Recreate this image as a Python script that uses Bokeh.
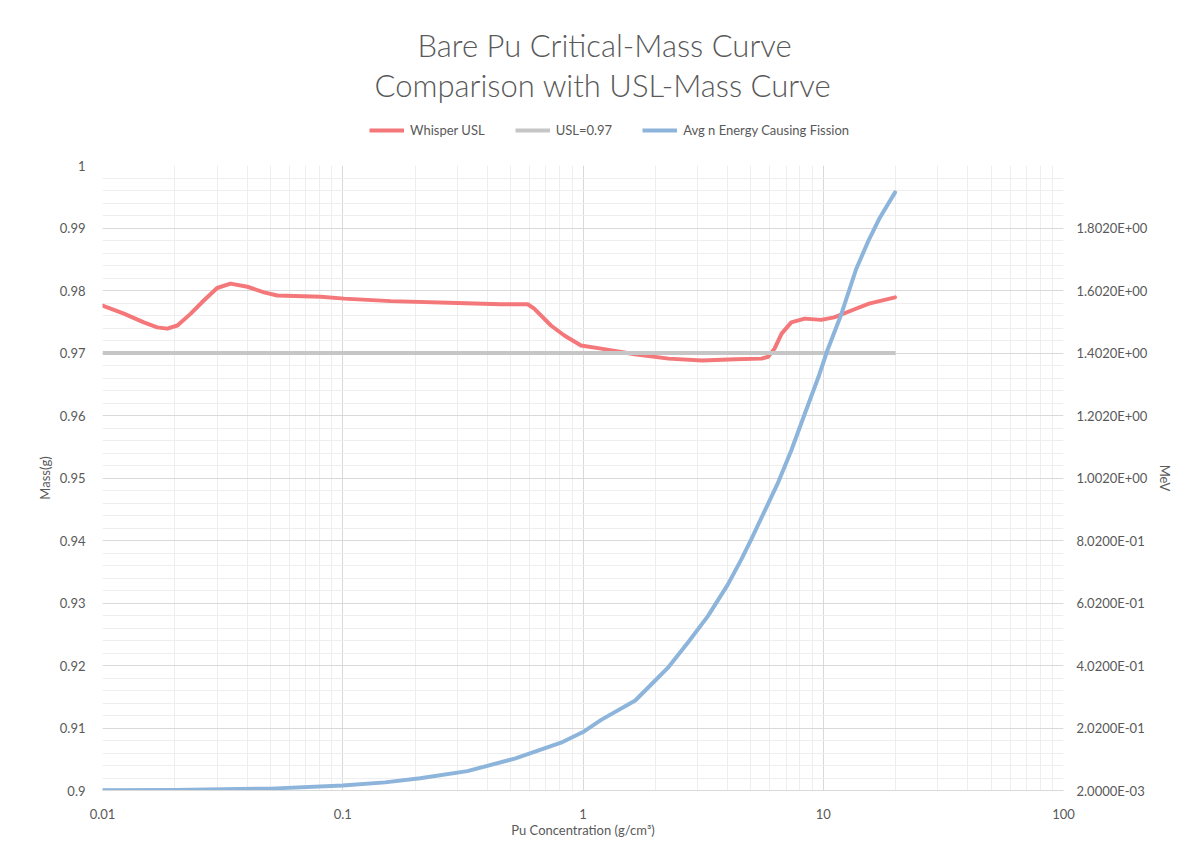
from bokeh.plotting import figure
from bokeh.layouts import column
from bokeh.models import (Range1d, LinearAxis, FixedTicker, SingleIntervalTicker,
                          CustomJSTickFormatter, Legend, LegendItem, Title)
from bokeh.embed import file_html
from bokeh.resources import INLINE

# ---------------- data ----------------
conc_usl = [0.01, 0.01227, 0.01486, 0.0169, 0.0186, 0.0205, 0.0233, 0.0264, 0.030,
            0.0341, 0.0401, 0.047, 0.0534, 0.081, 0.1013, 0.1585, 0.30, 0.4545,
            0.5886, 0.6264, 0.7356, 0.836, 0.981, 1.19, 1.644, 2.27, 3.13, 4.31,
            5.54, 5.9, 6.27, 6.71, 7.36, 8.37, 9.8, 11.1, 13.1, 15.5, 19.9]
whisper_usl = [0.9776, 0.9763, 0.9749, 0.9741, 0.9739, 0.9744, 0.9763, 0.9784, 0.9804,
               0.9811, 0.9806, 0.9797, 0.9792, 0.9790, 0.9787, 0.9783, 0.9780, 0.9778,
               0.9778, 0.9771, 0.9744, 0.9728, 0.9712, 0.9707, 0.9698, 0.9691, 0.9688,
               0.9690, 0.9691, 0.9694, 0.9707, 0.9731, 0.9749, 0.9755, 0.9753, 0.9757,
               0.9768, 0.9779, 0.9789]

conc_limit = [0.01, 20]
usl_limit = [0.97, 0.97]

conc_energy = [0.01, 0.02, 0.05, 0.1, 0.15, 0.21, 0.33, 0.52, 0.81, 1.0, 1.19, 1.65,
               1.86, 2.27, 2.73, 3.31, 4.0, 4.55, 5.01, 6.45, 7.36, 8.37, 9.55, 10.4,
               11.9, 13.7, 15.5, 17.2, 19.9]
avg_energy = [0.003, 0.004, 0.008, 0.018, 0.028, 0.041, 0.064, 0.104, 0.155, 0.189,
              0.228, 0.290, 0.330, 0.397, 0.475, 0.560, 0.660, 0.740, 0.805, 0.983,
              1.090, 1.207, 1.325, 1.410, 1.527, 1.670, 1.765, 1.835, 1.916]

series_names = ["Whisper USL", "USL=0.97", "Avg n Energy Causing Fission"]
series_colors = ["#f4777a", "#c6c6c6", "#8db4da"]

x_major = [0.01, 0.1, 1, 10, 100]
x_minor = [m * d for d in [0.01, 0.1, 1, 10] for m in range(2, 10)]
mev_ticks = [0.002, 0.202, 0.402, 0.602, 0.802, 1.002, 1.202, 1.402, 1.602, 1.802]

title_1 = "Bare Pu Critical-Mass Curve"
title_2 = "Comparison with USL-Mass Curve"

FONT = "Lato"
TITLE_FONT = "'Lato Light', Lato"
TXT = "#595959"
TOTAL_W = 1187

# ---------------- header (titles + legend) ----------------
header = figure(width=TOTAL_W, height=155, x_range=Range1d(0, 1), y_range=Range1d(0, 1),
                x_axis_location=None, y_axis_location=None, title=None,
                output_backend="svg", toolbar_location=None,
                min_border_left=0, min_border_right=0, min_border_bottom=0,
                min_border_top=103)
header.grid.visible = False
header.outline_line_color = None
header.border_fill_color = "white"

# legend swatches (kept outside the visible header range, only used by the legend)
swatches = [header.line([5, 6], [5, 6], line_color=c, line_width=4) for c in series_colors]
legend = Legend(items=[LegendItem(label=n, renderers=[r]) for n, r in zip(series_names, swatches)],
                orientation="horizontal", location=(267, 15),
                border_line_color=None, background_fill_alpha=0,
                label_text_font=FONT, label_text_font_size="13px",
                label_text_color=TXT, glyph_width=35, label_standoff=6,
                spacing=30, padding=10, margin=0)
header.add_layout(legend, "center")

t2 = Title(text=title_2, align="left", text_font=TITLE_FONT, text_font_size="31px",
           text_font_style="normal", text_color=TXT, offset=272, standoff=0)
t1 = Title(text=title_1, align="left", text_font=TITLE_FONT, text_font_size="31px",
           text_font_style="normal", text_color=TXT, offset=315, standoff=0)
header.add_layout(t2, "above")
header.add_layout(t1, "above")

# ---------------- main chart ----------------
p = figure(frame_width=961, frame_height=625, x_axis_type="log",
           x_range=Range1d(0.01, 100), y_range=Range1d(0.9, 1.0),
           output_backend="svg", toolbar_location=None, title=None,
           min_border_left=102, min_border_right=124, min_border_top=10,
           min_border_bottom=61)
p.outline_line_color = None
p.background_fill_color = "white"
p.border_fill_color = "white"

p.extra_y_ranges = {"mev": Range1d(0.002, 2.002)}

xa = p.xaxis[0]
xa.ticker = FixedTicker(ticks=x_major, minor_ticks=x_minor)
xa.formatter = CustomJSTickFormatter(code="return parseFloat(tick.toPrecision(6)).toString();")
xa.axis_label = "Pu Concentration (g/cm³)"

ya = p.yaxis[0]
ya.ticker = SingleIntervalTicker(interval=0.01, num_minor_ticks=5)
ya.formatter = CustomJSTickFormatter(code="return parseFloat(tick.toFixed(4)).toString();")
ya.axis_label = "Mass(g)"

ra = LinearAxis(y_range_name="mev", axis_label="MeV",
                ticker=FixedTicker(ticks=mev_ticks))
ra.formatter = CustomJSTickFormatter(code="""
const s = tick.toExponential(4);
const parts = s.split('e');
const sign = parts[1][0];
const d = parts[1].slice(1).padStart(2, '0');
return parts[0] + 'E' + sign + d;
""")
if "axis_label_orientation" in ra.properties():
    ra.axis_label_orientation = "vertical"
p.add_layout(ra, "right")

for ax in [xa, ya, ra]:
    ax.major_tick_line_color = None
    ax.minor_tick_line_color = None
    ax.major_label_text_font = FONT
    ax.major_label_text_font_size = "13px"
    ax.major_label_text_color = TXT
    ax.axis_label_text_font = FONT
    ax.axis_label_text_font_size = "13px"
    ax.axis_label_text_color = TXT
    ax.axis_label_text_font_style = "normal"
    ax.axis_line_color = None

xa.axis_line_color = "#d9d9d9"
xa.major_label_standoff = 12
xa.axis_label_standoff = 0
ya.major_label_standoff = 11
ya.axis_label_standoff = 4
ra.major_label_standoff = 7
ra.axis_label_standoff = 7

p.xgrid.grid_line_color = "#d9d9d9"
p.xgrid.minor_grid_line_color = "#eeeeee"
p.ygrid.grid_line_color = "#d9d9d9"
p.ygrid.minor_grid_line_color = "#eeeeee"

p.line(conc_usl, whisper_usl, line_color=series_colors[0], line_width=4,
       line_join="round", line_cap="round")
p.line(conc_limit, usl_limit, line_color=series_colors[1], line_width=4)
p.line(conc_energy, avg_energy, y_range_name="mev", line_color=series_colors[2],
       line_width=4, line_join="round", line_cap="round")

layout = column(header, p, spacing=0)
open("out.html", "w").write(file_html(layout, INLINE))
